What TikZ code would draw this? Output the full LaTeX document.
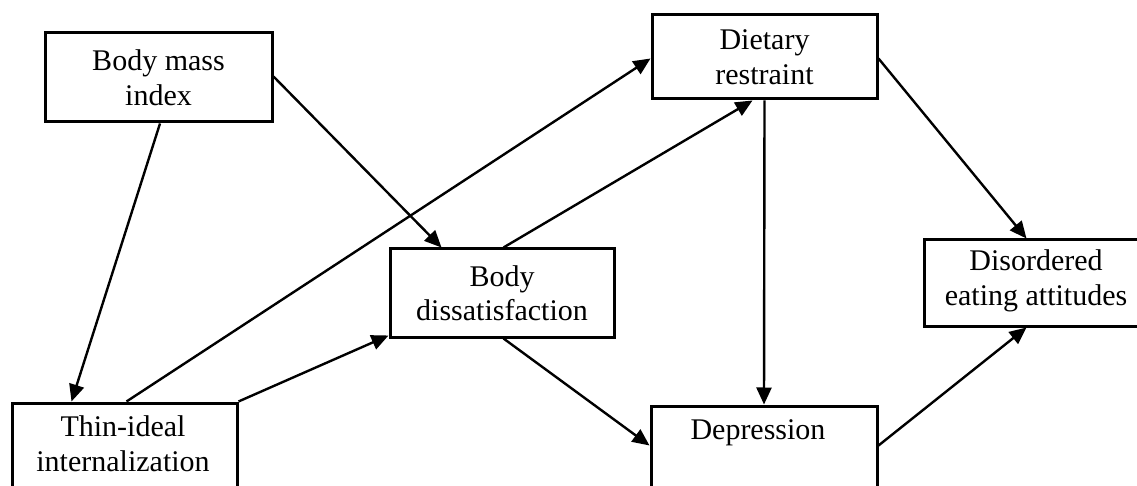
\documentclass[tikz,border=0pt]{standalone}
\usepackage{fontspec}
\setmainfont{Liberation Serif}
\usetikzlibrary{arrows.meta,calc}
\tikzset{
  boxnode/.style={draw=black, line width=3pt, fill=white, inner sep=0pt, align=center,
    font=\fontsize{30}{34.5}\selectfont},
  txt/.style={inner sep=0pt, align=center, font=\fontsize{30}{34.5}\selectfont},
  arr/.style={line width=2.4pt, draw=black, -{Triangle[length=17pt,width=15pt]}}
}
\begin{document}
\begin{tikzpicture}[x=1pt,y=-1pt]
\useasboundingbox (0,0) rectangle (1137,486);
\clip (0,0) rectangle (1137,486);
\fill[white] (0,0) rectangle (1137,486);
% boxes
\node[boxnode, minimum width=227pt, minimum height=89pt] (bmi) at (158.5,77.5) {Body mass\\index};
\node[boxnode, minimum width=225pt, minimum height=84pt] (diet) at (764.5,57) {Dietary\\restraint};
\node[boxnode, minimum width=224pt, minimum height=88pt] (bd) at (502,293) {Body\\dissatisfaction};
\node[boxnode, minimum width=250pt, minimum height=86pt] (dis) at (1049,283) {};
\node[txt] (distext) at (1036,281) {Disordered\\eating attitudes};
\node[boxnode, minimum width=225pt, minimum height=140pt] (thin) at (124.5,473) {};
\node[txt, anchor=north] (thintext) at (123,415.5) {Thin-ideal\\internalization};
\node[boxnode, minimum width=226pt, minimum height=140pt] (dep) at (764,476) {};
\node[txt, anchor=base] (deptext) at (758,439) {Depression};
% connectors
\draw[arr] ($(bmi.south)+(1.5,0)$) -- ($(thin.north west)+(61,0)$);
\draw[arr] ($(bmi.north east)+(0,45)$) -- ($(bd.north west)+(53,0)$);
\draw[arr] ($(thin.north west)+(116,0)$) -- ($(diet.north west)+(0,45)$);
\draw[arr] (thin.north east) -- ($(bd.south west)+(0,-3)$);
\draw[arr] ($(bd.north west)+(115,0)$) -- ($(diet.south west)+(102,0)$);
\draw[arr] (diet.south) -- (dep.north);
\draw[arr] ($(bd.south west)+(115,0)$) -- ($(dep.north west)+(0,41)$);
\draw[arr] ($(diet.north east)+(0,45)$) -- ($(dis.north west)+(104,0)$);
\draw[arr] ($(dep.north east)+(0,41)$) -- ($(dis.south west)+(104,0)$);
\end{tikzpicture}
\end{document}
